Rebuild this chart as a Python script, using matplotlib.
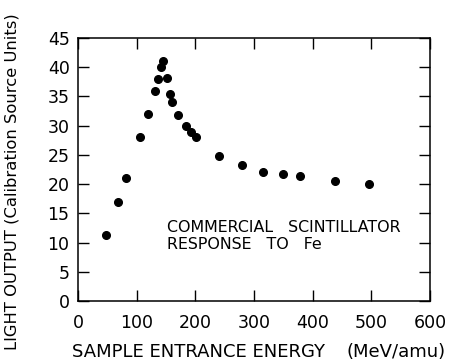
import matplotlib
matplotlib.use("Agg")
import matplotlib.pyplot as plt

energy = [48, 68, 82, 105, 120, 131, 136, 141, 145, 152, 157, 161, 170, 184, 192, 201,
          240, 279, 316, 350, 379, 439, 497]
light = [11.3, 17.0, 21.0, 28.0, 32.0, 35.9, 38.0, 40.0, 41.1, 38.1, 35.5, 34.1, 31.9,
         30.0, 29.0, 28.0, 24.8, 23.2, 22.1, 21.7, 21.4, 20.6, 20.1]
xticks = [0, 100, 200, 300, 400, 500, 600]
yticks = [0, 5, 10, 15, 20, 25, 30, 35, 40, 45]

plt.rcParams['font.family'] = ['DejaVu Sans']

fig = plt.figure(figsize=(4.53, 3.62), dpi=100)
ax = fig.add_axes([0.172, 0.1685, 0.777, 0.7265])
ax.plot(energy, light, 'o', color='black', ms=5.5, mec='black')
ax.set_xlim(0, 600)
ax.set_ylim(0, 45)
ax.set_xticks(xticks)
ax.set_yticks(yticks)
ax.set_xticklabels([str(v) for v in xticks], fontsize=12.5)
ax.set_yticklabels([str(v) for v in yticks], fontsize=12.5)
ax.tick_params(axis='x', pad=9)
ax.tick_params(axis='y', pad=6)
ax.tick_params(direction='in', length=8, width=1, top=True, right=True)
for s in ax.spines.values():
    s.set_linewidth(1.1)

ax.text(152, 12.6, 'COMMERCIAL   SCINTILLATOR', fontsize=11.4, va='center', ha='left')
ax.text(152, 9.6, 'RESPONSE   TO   Fe', fontsize=11.4, va='center', ha='left')

fig.text(12 / 453, 1 - 182 / 362, 'LIGHT OUTPUT (Calibration Source Units)', rotation=90,
         fontsize=11.8, va='center', ha='center')
fig.text(72 / 453, 1 - 352 / 362, 'SAMPLE ENTRANCE ENERGY', fontsize=13, va='center', ha='left')
fig.text(346 / 453, 1 - 352 / 362, '(MeV/amu)', fontsize=13, va='center', ha='left')

fig.savefig('out.png', dpi=100)
